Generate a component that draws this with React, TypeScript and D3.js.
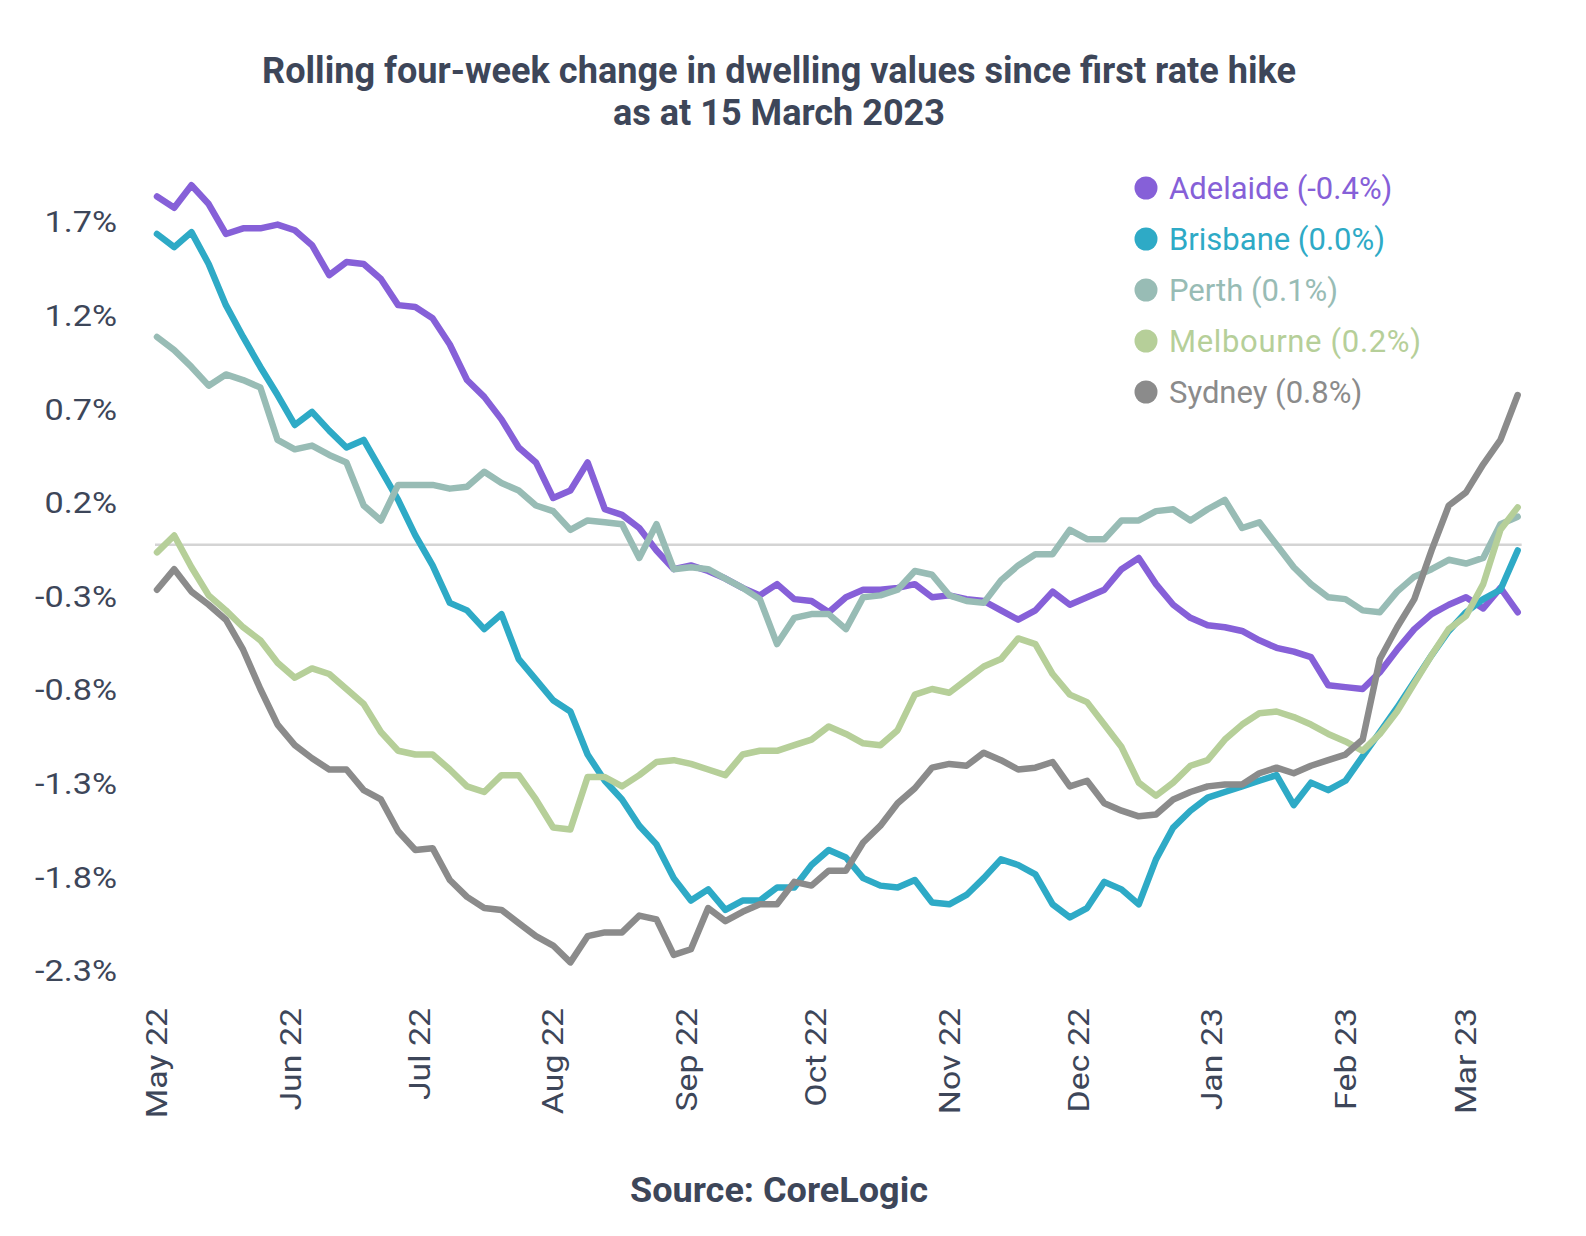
import { FC, useMemo } from 'react';
import * as d3 from 'd3';

// every series is sampled every 4 days starting 1 May 2022
const START = new Date(2022, 4, 1);
const STEP_DAYS = 4;

const cities = ['Adelaide', 'Brisbane', 'Perth', 'Melbourne', 'Sydney'];
const legendValues = ['-0.4%', '0.0%', '0.1%', '0.2%', '0.8%'];
const colors = ['#8660d8', '#2eaac6', '#98bcb5', '#b6cf99', '#8b8b8b'];

const adelaide = [
  1.86, 1.8, 1.92, 1.82, 1.66, 1.69, 1.69, 1.71, 1.68, 1.6, 1.44, 1.51, 1.5, 1.42, 1.28, 1.27,
  1.21, 1.07, 0.88, 0.79, 0.67, 0.52, 0.44, 0.25, 0.29, 0.44, 0.19, 0.16, 0.09, -0.03, -0.13, -0.11,
  -0.14, -0.18, -0.23, -0.27, -0.21, -0.29, -0.3, -0.36, -0.28, -0.24, -0.24, -0.23, -0.21, -0.28, -0.27, -0.29,
  -0.3, -0.35, -0.4, -0.35, -0.25, -0.32, -0.28, -0.24, -0.13, -0.07, -0.21, -0.32, -0.39, -0.43, -0.44, -0.46,
  -0.51, -0.55, -0.57, -0.6, -0.75, -0.76, -0.77, -0.68, -0.56, -0.45, -0.37, -0.32, -0.28, -0.34, -0.23, -0.36,
];
const brisbane = [
  1.66, 1.59, 1.67, 1.5, 1.28, 1.11, 0.95, 0.8, 0.64, 0.71, 0.61, 0.52, 0.56, 0.4, 0.24, 0.05,
  -0.11, -0.31, -0.35, -0.45, -0.37, -0.61, -0.72, -0.83, -0.89, -1.12, -1.26, -1.36, -1.5, -1.6, -1.78, -1.9,
  -1.84, -1.95, -1.9, -1.9, -1.83, -1.83, -1.71, -1.63, -1.67, -1.78, -1.82, -1.83, -1.79, -1.91, -1.92, -1.87,
  -1.78, -1.68, -1.71, -1.76, -1.92, -1.99, -1.94, -1.8, -1.84, -1.92, -1.68, -1.51, -1.42, -1.35, -1.32, -1.29,
  -1.26, -1.23, -1.39, -1.27, -1.31, -1.26, -1.13, -1.0, -0.87, -0.73, -0.59, -0.46, -0.36, -0.29, -0.24, -0.03,
];
const perth = [
  1.11, 1.04, 0.95, 0.85, 0.91, 0.88, 0.84, 0.56, 0.51, 0.53, 0.48, 0.44, 0.21, 0.13, 0.32, 0.32,
  0.32, 0.3, 0.31, 0.39, 0.33, 0.29, 0.21, 0.18, 0.08, 0.13, 0.12, 0.11, -0.07, 0.11, -0.13, -0.12,
  -0.13, -0.18, -0.23, -0.29, -0.53, -0.39, -0.37, -0.37, -0.45, -0.28, -0.27, -0.24, -0.14, -0.16, -0.27, -0.3,
  -0.31, -0.19, -0.11, -0.05, -0.05, 0.08, 0.03, 0.03, 0.13, 0.13, 0.18, 0.19, 0.13, 0.19, 0.24, 0.09,
  0.12, 0.0, -0.12, -0.21, -0.28, -0.29, -0.35, -0.36, -0.25, -0.17, -0.13, -0.08, -0.1, -0.07, 0.11, 0.15,
];
const melbourne = [
  -0.04, 0.05, -0.12, -0.27, -0.35, -0.44, -0.51, -0.63, -0.71, -0.66, -0.69, -0.77, -0.85, -1.0, -1.1, -1.12,
  -1.12, -1.2, -1.29, -1.32, -1.23, -1.23, -1.36, -1.51, -1.52, -1.24, -1.24, -1.29, -1.23, -1.16, -1.15, -1.17,
  -1.2, -1.23, -1.12, -1.1, -1.1, -1.07, -1.04, -0.97, -1.01, -1.06, -1.07, -0.99, -0.8, -0.77, -0.79, -0.72,
  -0.65, -0.61, -0.5, -0.53, -0.69, -0.8, -0.84, -0.96, -1.08, -1.27, -1.34, -1.27, -1.18, -1.15, -1.04, -0.96,
  -0.9, -0.89, -0.92, -0.96, -1.01, -1.05, -1.1, -1.01, -0.89, -0.74, -0.59, -0.45, -0.38, -0.21, 0.08, 0.2,
];
const sydney = [
  -0.24, -0.13, -0.25, -0.32, -0.4, -0.56, -0.77, -0.96, -1.07, -1.14, -1.2, -1.2, -1.31, -1.36, -1.53, -1.63,
  -1.62, -1.79, -1.88, -1.94, -1.95, -2.02, -2.09, -2.14, -2.23, -2.09, -2.07, -2.07, -1.98, -2.0, -2.19, -2.16,
  -1.94, -2.01, -1.96, -1.92, -1.92, -1.8, -1.82, -1.74, -1.74, -1.59, -1.5, -1.38, -1.3, -1.19, -1.17, -1.18,
  -1.11, -1.15, -1.2, -1.19, -1.16, -1.29, -1.26, -1.38, -1.42, -1.45, -1.44, -1.36, -1.32, -1.29, -1.28, -1.28,
  -1.22, -1.19, -1.22, -1.18, -1.15, -1.12, -1.04, -0.61, -0.44, -0.29, -0.03, 0.21, 0.28, 0.43, 0.56, 0.8,
];

const seriesValues = [adelaide, brisbane, perth, melbourne, sydney];

// the axis ticks sit a little off round numbers, shown with one decimal
const yTicks = [1.724, 1.224, 0.724, 0.224, -0.276, -0.776, -1.276, -1.776, -2.276];
const xTickLabels = ['May 22', 'Jun 22', 'Jul 22', 'Aug 22', 'Sep 22', 'Oct 22', 'Nov 22', 'Dec 22', 'Jan 23', 'Feb 23', 'Mar 23'];

const WIDTH = 1586;
const HEIGHT = 1236;
const TEXT = '#3d4659';

type Point = { date: Date; value: number };

const App: FC = () => {
  const xScale = useMemo(
    () => d3.scaleTime().domain([new Date(2022, 4, 1), new Date(2023, 2, 1)]).range([157, 1466]),
    []
  );
  const yScale = useMemo(() => d3.scaleLinear().domain([-2.276, 1.724]).range([971, 222]), []);

  const lineBuilder = d3
    .line<Point>()
    .x((d) => xScale(d.date))
    .y((d) => yScale(d.value))
    .curve(d3.curveLinear);

  const series = seriesValues.map((vals) =>
    vals.map((v, i) => ({ date: d3.timeDay.offset(START, i * STEP_DAYS), value: v }))
  );
  const lastDate = d3.timeDay.offset(START, (adelaide.length - 1) * STEP_DAYS);
  const monthTicks = d3.timeMonth.range(new Date(2022, 4, 1), new Date(2023, 2, 2));

  return (
    <div>
      <style>{'body{margin:0}'}</style>
      <svg width={WIDTH} height={HEIGHT} style={{ display: 'block', background: '#fff' }}>
        <g fontFamily="Roboto, 'Noto Sans', sans-serif" fill={TEXT}>
          <text x={779} y={83} textAnchor="middle" fontSize={36} fontWeight={700} textLength={1034} lengthAdjust="spacingAndGlyphs">
            Rolling four-week change in dwelling values since first rate hike
          </text>
          <text x={779} y={125} textAnchor="middle" fontSize={36} fontWeight={700} textLength={332} lengthAdjust="spacingAndGlyphs">
            as at 15 March 2023
          </text>
          <text x={779} y={1202} textAnchor="middle" fontSize={35} fontWeight={700} textLength={298} lengthAdjust="spacingAndGlyphs">
            Source: CoreLogic
          </text>
        </g>

        {/* zero line */}
        <line
          x1={xScale(START) - 2}
          x2={xScale(lastDate) + 4}
          y1={yScale(0)}
          y2={yScale(0)}
          stroke="#d4d4d4"
          strokeWidth={2.5}
        />

        {/* y axis labels */}
        <g fontFamily="Roboto, sans-serif" fontSize={30} fill={TEXT}>
          {yTicks.map((t) => (
            <text
              key={t}
              transform={`translate(117,${yScale(t)}) scale(1.14,1)`}
              textAnchor="end"
              dominantBaseline="central"
            >
              {t.toFixed(1)}%
            </text>
          ))}
        </g>

        {/* x axis labels */}
        <g fontFamily="Roboto, sans-serif" fontSize={30} fill={TEXT}>
          {monthTicks.map((d, i) => (
            <text
              key={i}
              transform={`translate(${xScale(d)},1008) rotate(-90) scale(1.13,1)`}
              textAnchor="end"
              dominantBaseline="central"
            >
              {xTickLabels[i]}
            </text>
          ))}
        </g>

        {/* series */}
        <g fill="none" strokeWidth={6.5} strokeLinejoin="round" strokeLinecap="round">
          {series.map((s, i) => (
            <path key={cities[i]} d={lineBuilder(s) || ''} stroke={colors[i]} />
          ))}
        </g>

        {/* legend */}
        <g fontFamily="Roboto, sans-serif" fontSize={31}>
          {cities.map((c, i) => (
            <g key={c} transform={`translate(1146,${188 + i * 51})`}>
              <circle r={11.5} fill={colors[i]} />
              <text x={23} dominantBaseline="central" fill={colors[i]} textLength={i === 3 ? 252 : undefined}>
                {`${c} (${legendValues[i]})`}
              </text>
            </g>
          ))}
        </g>
      </svg>
    </div>
  );
};

export default App;
